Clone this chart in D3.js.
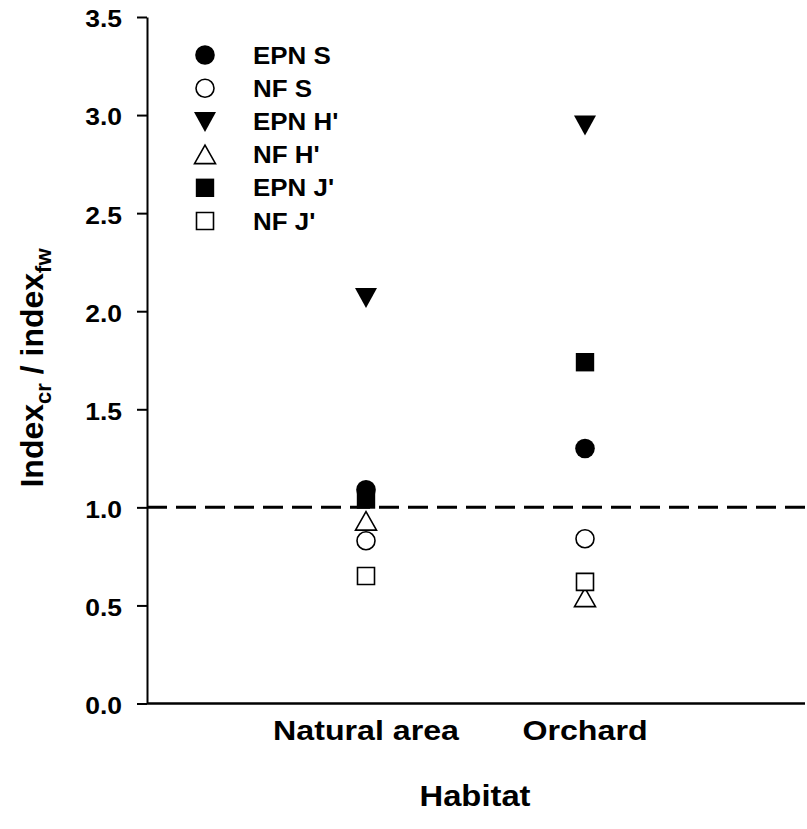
<!DOCTYPE html>
<html>
<head>
<meta charset="utf-8">
<title>Index ratio by habitat</title>
<script src="https://cdnjs.cloudflare.com/ajax/libs/d3/7.8.5/d3.min.js"></script>
<style>
  body { margin: 0; background: #fff; }
  svg text { font-family: "Liberation Sans", Arial, Helvetica, sans-serif; font-weight: bold; fill: #000; }
</style>
</head>
<body>
<svg id="chart" width="807" height="829"></svg>
<script>
// habitats on the x axis
var habitats = ["Natural area", "Orchard"];
// one series per index (Natural area, Orchard)
var seriesNames = ["EPN S", "NF S", "EPN H'", "NF H'", "EPN J'", "NF J'"];
var epnS  = [1.09, 1.30];
var nfS   = [0.83, 0.84];
var epnH  = [2.07, 2.95];
var nfH   = [0.93, 0.54];
var epnJ  = [1.04, 1.74];
var nfJ   = [0.65, 0.62];
var yTicks = [0, 0.5, 1.0, 1.5, 2.0, 2.5, 3.0, 3.5];
var refLine = 1.0;

var markers = [
  {name: seriesNames[0], values: epnS, shape: "circle",   open: false},
  {name: seriesNames[1], values: nfS,  shape: "circle",   open: true},
  {name: seriesNames[2], values: epnH, shape: "triDown",  open: false},
  {name: seriesNames[3], values: nfH,  shape: "triUp",    open: true},
  {name: seriesNames[4], values: epnJ, shape: "square",   open: false},
  {name: seriesNames[5], values: nfJ,  shape: "square",   open: true}
];

var svg = d3.select("#chart");

var x = d3.scalePoint().domain(habitats).range([147, 804]).padding(1);
var y = d3.scaleLinear().domain([0, 3.5]).range([703.5, 17]);

// marker outline centred on 0,0
function shapePath(s, open) {
  var p = d3.path();
  if (s == "circle") {
    var r = open ? 9 : 9.8;
    p.arc(0, 0, r, 0, 2 * Math.PI);
  } else if (s == "square") {
    var h = open ? 8.5 : 9.2;
    p.rect(-h, -h, 2 * h, 2 * h);
  } else if (s == "triDown") {
    p.moveTo(-11, -9.5); p.lineTo(11, -9.5); p.lineTo(0, 10.5); p.closePath();
  } else if (s == "triUp") {
    p.moveTo(0, -9.5); p.lineTo(10.5, 9); p.lineTo(-10.5, 9); p.closePath();
  }
  return p.toString();
}

function drawMarker(g, m) {
  g.append("path")
    .attr("d", shapePath(m.shape, m.open))
    .attr("fill", m.open ? "#fff" : "#000")
    .attr("stroke", "#000")
    .attr("stroke-width", m.open ? 1.6 : 0);
}

// y axis
var tickSx = 1.15;
var yAxis = svg.append("g")
  .attr("transform", "translate(147,0)")
  .call(d3.axisLeft(y).tickValues(yTicks).tickFormat(d3.format(".1f"))
    .tickSize(10).tickSizeOuter(0).tickPadding(15));
yAxis.select(".domain").attr("stroke-width", 2);
yAxis.selectAll(".tick line").attr("stroke-width", 2);
yAxis.selectAll(".tick text")
  .attr("font-size", 23)
  .attr("font-family", null)
  .attr("x", -25 / tickSx)
  .attr("y", 2.5)
  .attr("transform", "scale(" + tickSx + ",1)");

// x axis (line only)
var xAxis = svg.append("g")
  .attr("transform", "translate(0," + y(0) + ")")
  .call(d3.axisBottom(x).tickSize(0).tickSizeOuter(0).tickFormat(""));
xAxis.select(".domain").attr("d", "M147,0H805").attr("stroke-width", 2.5);

// category labels
svg.selectAll(".cat")
  .data(habitats)
  .enter().append("text")
  .attr("class", "cat")
  .attr("text-anchor", "middle")
  .attr("font-size", 27.5)
  .attr("transform", function(d){ return "translate(" + x(d) + ",740) scale(1.17,1)"; })
  .text(function(d){ return d; });

// axis titles
svg.append("text")
  .attr("text-anchor", "middle")
  .attr("font-size", 29)
  .attr("transform", "translate(475,806) scale(1.13,1)")
  .text("Habitat");

var yt = svg.append("text")
  .attr("text-anchor", "middle")
  .attr("font-size", 32)
  .attr("transform", "translate(43,368) rotate(-90)");
yt.append("tspan").text("Index");
yt.append("tspan").attr("font-size", 22).attr("dy", 8).text("cr");
yt.append("tspan").attr("dy", -8).text(" / index");
yt.append("tspan").attr("font-size", 22).attr("dy", 8).text("fw");

// reference line at 1
svg.append("line")
  .attr("x1", 147).attr("x2", 805)
  .attr("y1", y(refLine)).attr("y2", y(refLine))
  .attr("stroke", "#000")
  .attr("stroke-width", 3)
  .attr("stroke-dasharray", "20,9");

// data points
markers.forEach(function(m){
  m.values.forEach(function(v, i){
    var g = svg.append("g").attr("transform", "translate(" + x(habitats[i]) + "," + y(v) + ")");
    drawMarker(g, m);
  });
});

// legend
markers.forEach(function(m, i){
  var ry = 55 + i * 33.2;
  var g = svg.append("g").attr("transform", "translate(205," + ry + ")");
  drawMarker(g, m);
  svg.append("text")
    .attr("font-size", 24)
    .attr("transform", "translate(253," + (ry + 8.5) + ") scale(1.08,1)")
    .text(m.name);
});
</script>
</body>
</html>
